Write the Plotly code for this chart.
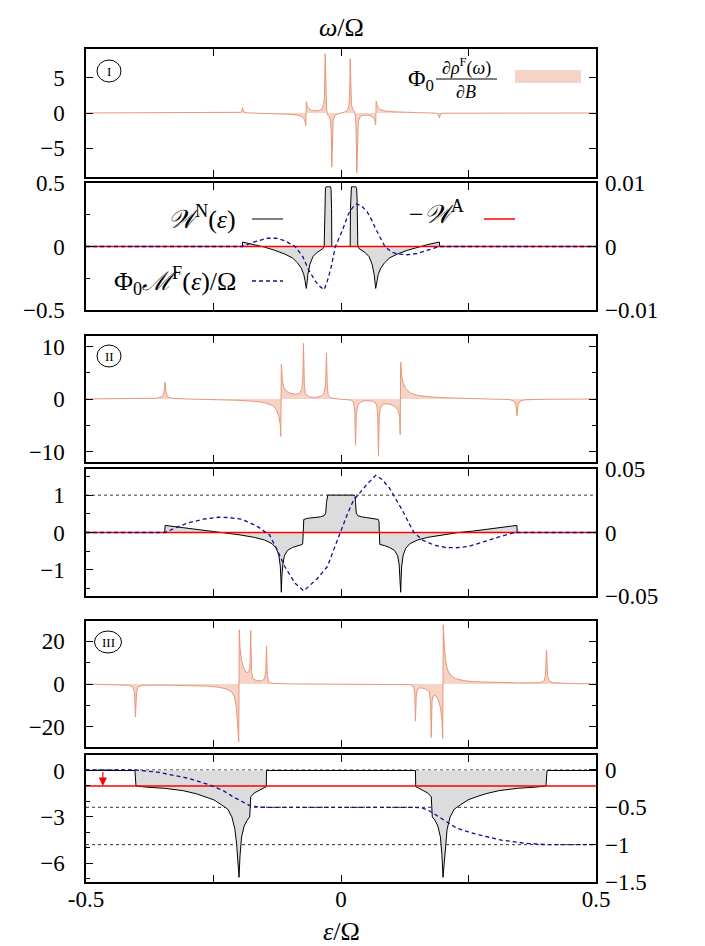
import plotly.graph_objects as go

# ---------------- data ----------------
# Panel I : Phi0 d rho^F / dB  (case I)
eps_rho1 = [-0.5, -0.25, -0.2, -0.196, -0.1945, -0.193, -0.1915, -0.19, -0.185, -0.15, -0.12, -0.1, -0.085,
            -0.077, -0.073, -0.0705, -0.069, -0.068, -0.066, -0.063, -0.058, -0.05, -0.042, -0.037, -0.034,
            -0.0325, -0.031, -0.0295, -0.028, -0.026, -0.023, -0.0205, -0.019, -0.018, -0.017, -0.0155,
            -0.012, -0.006,
            0.006, 0.012, 0.0155, 0.017, 0.018, 0.019, 0.0205, 0.023, 0.026, 0.028, 0.0295, 0.031, 0.0325,
            0.034, 0.037, 0.042, 0.05, 0.058, 0.063, 0.066, 0.068, 0.069, 0.0705, 0.073, 0.077, 0.085, 0.1,
            0.12, 0.15, 0.185, 0.19, 0.1915, 0.193, 0.1945, 0.196, 0.2, 0.25, 0.5]
rho1 = [0.0, 0.01, 0.03, 0.1, 0.3, 0.75, 0.3, 0.1, 0.02, -0.05, -0.1, -0.18, -0.3,
        -0.5, -0.8, -1.2, -1.8, 1.6, 0.95, 0.6, 0.4, 0.3, 0.35, 0.6, 1.2,
        2.5, 8.4, 2.0, 0.3, -0.3, -0.5, -1.2, -2.8, -7.7, -2.6, -1.0,
        -0.35, -0.1,
        0.1, 0.35, 1.0, 2.6, 7.7, 2.8, 1.2, 0.5, 0.3, -0.3, -2.0, -8.5, -2.5,
        -1.2, -0.6, -0.35, -0.3, -0.4, -0.6, -0.95, -1.7, 1.7, 1.2, 0.8, 0.5, 0.3, 0.18,
        0.1, 0.05, -0.02, -0.1, -0.3, -0.7, -0.3, -0.1, -0.03, -0.01, 0.0]

# Panel II : W^N (left axis) and M^F (right axis), case I
eps_w1 = [-0.5, -0.1935, -0.193, -0.17, -0.15, -0.13, -0.11, -0.095, -0.085, -0.078, -0.073, -0.0705,
          -0.069, -0.068, -0.067, -0.065, -0.061, -0.055, -0.048, -0.04, -0.035, -0.033, -0.032,
          -0.0315, -0.0305, -0.029, -0.0205, -0.0195, -0.0185, -0.018,
          0.018, 0.0185, 0.0195, 0.0205, 0.029, 0.0305, 0.0315, 0.032, 0.033, 0.035, 0.04, 0.048,
          0.055, 0.061, 0.065, 0.067, 0.068, 0.069, 0.0705, 0.073, 0.078, 0.085, 0.095, 0.11, 0.13,
          0.15, 0.17, 0.193, 0.1935, 0.5]
wN1 = [0.0, 0.0, 0.035, 0.015, -0.005, -0.03, -0.06, -0.09, -0.13, -0.17, -0.22, -0.27,
       -0.31, -0.33, -0.3, -0.22, -0.14, -0.08, -0.05, -0.03, -0.015, 0.0, 0.15,
       0.38, 0.46, 0.47, 0.47, 0.45, 0.3, 0.0,
       0.0, 0.3, 0.45, 0.47, 0.47, 0.46, 0.38, 0.15, 0.0, -0.015, -0.03, -0.05,
       -0.08, -0.14, -0.22, -0.3, -0.33, -0.31, -0.27, -0.22, -0.17, -0.13, -0.09, -0.06, -0.03,
       -0.005, 0.015, 0.035, 0.0, 0.0]
eps_m1 = [-0.5, -0.193, -0.175, -0.16, -0.145, -0.127, -0.11, -0.09, -0.075, -0.064, -0.05, -0.04,
          -0.033, -0.027, -0.02, -0.011, 0.002, 0.015, 0.025, 0.031, 0.04, 0.051, 0.06, 0.068,
          0.077, 0.086, 0.1, 0.112, 0.13, 0.15, 0.165, 0.18, 0.193, 0.5]
mF1 = [0.0, 0.0, 0.0006, 0.001, 0.0013, 0.0013, 0.0009, 0.0, -0.0016, -0.0036, -0.0055, -0.0064,
       -0.0068, -0.0055, -0.0035, 0.0, 0.0024, 0.0052, 0.0064, 0.0067, 0.0064, 0.0055, 0.0042, 0.0028,
       0.0013, 0.0, -0.0009, -0.0012, -0.0013, -0.0011, -0.0007, -0.0003, 0.0, 0.0]
wA1 = [0.0, 0.0]

# Panel III : Phi0 d rho^F / dB  (case II)
eps_rho2 = [-0.5, -0.4, -0.36, -0.35, -0.347, -0.345, -0.343, -0.34, -0.33, -0.3, -0.25, -0.2, -0.17,
            -0.15, -0.135, -0.127, -0.122, -0.119, -0.118, -0.117, -0.115, -0.112, -0.107, -0.1, -0.09,
            -0.082, -0.077, -0.075, -0.0735, -0.072, -0.07, -0.062, -0.05, -0.04, -0.033, -0.03,
            -0.0285, -0.027, -0.025, -0.02, -0.01,
            0.01, 0.02, 0.025, 0.027, 0.0285, 0.03, 0.033, 0.04, 0.05, 0.062, 0.07, 0.072, 0.0735,
            0.075, 0.077, 0.082, 0.09, 0.1, 0.107, 0.112, 0.115, 0.116, 0.117, 0.119, 0.122, 0.127,
            0.135, 0.15, 0.17, 0.2, 0.25, 0.3, 0.33, 0.34, 0.343, 0.345, 0.347, 0.35, 0.36, 0.4, 0.5]
rho2 = [0.0, 0.05, 0.15, 0.5, 1.2, 3.2, 1.2, 0.4, 0.1, 0.0, -0.1, -0.25, -0.45,
        -0.7, -1.2, -2.0, -3.2, -5.0, -7.1, 6.6, 3.5, 2.2, 1.5, 1.1, 0.9,
        1.0, 1.8, 3.5, 10.6, 3.2, 1.0, 0.4, 0.3, 0.5, 1.2, 3.0,
        8.7, 2.6, 0.7, 0.2, 0.05,
        -0.05, -0.2, -0.7, -2.6, -8.8, -3.0, -1.2, -0.5, -0.3, -0.4, -1.0, -3.2, -10.9,
        -3.5, -1.8, -1.0, -0.9, -1.1, -1.5, -2.2, -3.5, -6.8, 7.0, 4.5, 3.0, 2.0,
        1.2, 0.7, 0.45, 0.25, 0.1, 0.0, -0.1, -0.4, -1.2, -3.2, -1.2, -0.5, -0.15, -0.05, 0.0]

# Panel IV : W^N and M^F, case II
eps_w2 = [-0.5, -0.3455, -0.345, -0.32, -0.29, -0.26, -0.23, -0.2, -0.17, -0.15, -0.135, -0.127,
          -0.122, -0.119, -0.118, -0.117, -0.116, -0.114, -0.111, -0.105, -0.095, -0.085, -0.076,
          -0.075, -0.0745, -0.073, -0.065, -0.05, -0.04, -0.033, -0.03, -0.0285, -0.0275, -0.026,
          0.026, 0.0275, 0.0285, 0.03, 0.033, 0.04, 0.05, 0.065, 0.073, 0.0745, 0.075, 0.076, 0.085,
          0.095, 0.105, 0.111, 0.114, 0.116, 0.117, 0.118, 0.119, 0.122, 0.127, 0.135, 0.15, 0.17,
          0.2, 0.23, 0.26, 0.29, 0.32, 0.345, 0.3455, 0.5]
wN2 = [0.0, 0.0, 0.19, 0.15, 0.09, 0.04, 0.0, -0.06, -0.13, -0.2, -0.3, -0.42,
       -0.6, -0.9, -1.2, -1.6, -1.2, -0.85, -0.62, -0.48, -0.4, -0.35, -0.32,
       -0.28, 0.3, 0.35, 0.38, 0.4, 0.42, 0.45, 0.52, 0.8, 0.97, 1.0,
       1.0, 0.97, 0.8, 0.52, 0.45, 0.42, 0.4, 0.38, 0.35, 0.3, -0.28, -0.32, -0.35,
       -0.4, -0.48, -0.62, -0.85, -1.2, -1.6, -1.2, -0.9, -0.6, -0.42, -0.3, -0.2, -0.13,
       -0.06, 0.0, 0.04, 0.09, 0.15, 0.19, 0.0, 0.0]
eps_m2 = [-0.5, -0.345, -0.32, -0.3, -0.27, -0.24, -0.22, -0.196, -0.18, -0.161, -0.14, -0.126,
          -0.11, -0.09, -0.073, -0.06, -0.046, -0.027, -0.015, -0.002, 0.012, 0.024, 0.04, 0.051,
          0.068, 0.08, 0.095, 0.11, 0.121, 0.135, 0.143, 0.16, 0.183, 0.205, 0.227, 0.25, 0.28,
          0.31, 0.341, 0.5]
mF2 = [0.0, 0.0, 0.0045, 0.0075, 0.0105, 0.012, 0.0118, 0.0105, 0.008, 0.004, -0.002, -0.013,
       -0.027, -0.04, -0.046, -0.041, -0.036, -0.027, -0.014, 0.0, 0.014, 0.025, 0.033, 0.038,
       0.045, 0.042, 0.035, 0.025, 0.017, 0.006, 0.0, -0.006, -0.01, -0.0118, -0.012, -0.011, -0.007,
       -0.0035, 0.0, 0.0]
wA2 = [0.0, 0.0]

# Panel V : Phi0 d rho^F / dB  (case III)
eps_rho3 = [-0.5, -0.45, -0.415, -0.408, -0.405, -0.403, -0.401, -0.398, -0.39, -0.35, -0.3, -0.26,
            -0.24, -0.225, -0.215, -0.209, -0.205, -0.2025, -0.2005, -0.1995, -0.198, -0.195, -0.191,
            -0.186, -0.181, -0.1785, -0.177, -0.1755, -0.173, -0.165, -0.155, -0.15, -0.1475, -0.146,
            -0.1445, -0.142, -0.135, -0.1, 0.0,
            0.1, 0.135, 0.142, 0.1445, 0.146, 0.1475, 0.15, 0.155, 0.165, 0.173, 0.1755, 0.177, 0.1785,
            0.181, 0.186, 0.191, 0.195, 0.198, 0.1995, 0.2005, 0.2025, 0.205, 0.209, 0.215, 0.225,
            0.24, 0.26, 0.3, 0.35, 0.39, 0.398, 0.401, 0.403, 0.405, 0.408, 0.415, 0.45, 0.5]
rho3 = [0.0, -0.2, -0.6, -1.5, -4.0, -15.5, -4.0, -1.3, -0.6, -0.5, -0.7, -1.0,
        -1.5, -2.3, -3.6, -6.0, -11.0, -18.0, -27.0, 25.4, 17.0, 11.0, 7.5,
        5.5, 5.5, 8.0, 25.0, 6.0, 2.5, 1.5, 1.5, 2.5, 6.0, 17.8,
        4.0, 1.0, 0.3, 0.05, 0.0,
        -0.05, -0.3, -1.0, -4.0, -17.4, -6.0, -2.5, -1.8, -2.2, -3.5, -8.0, -25.0, -8.0,
        -5.5, -5.5, -7.5, -11.0, -17.0, -25.4, 27.7, 18.0, 11.0, 6.5, 4.0, 2.5,
        1.6, 1.1, 0.7, 0.5, 0.6, 1.3, 4.0, 15.9, 4.0, 1.5, 0.6, 0.2, 0.0]

# Panel VI : W^N and M^F, case III
eps_w3 = [-0.5, -0.404, -0.402, -0.38, -0.346, -0.31, -0.284, -0.265, -0.249, -0.235, -0.222, -0.214,
          -0.208, -0.2045, -0.202, -0.2, -0.198, -0.195, -0.19, -0.184, -0.179, -0.1775, -0.177,
          -0.17, -0.16, -0.15, -0.1465, -0.146,
          0.146, 0.1465, 0.15, 0.16, 0.17, 0.177, 0.1775, 0.179, 0.184, 0.19, 0.195, 0.198, 0.2,
          0.202, 0.2045, 0.208, 0.214, 0.222, 0.235, 0.249, 0.265, 0.284, 0.31, 0.346, 0.38, 0.402,
          0.404, 0.5]
wN3 = [0.0, 0.0, -1.0, -1.08, -1.15, -1.3, -1.5, -1.7, -1.9, -2.2, -2.5, -3.0,
       -3.8, -4.8, -6.0, -6.9, -5.5, -4.3, -3.6, -3.2, -3.0, -2.4, -1.7,
       -1.45, -1.25, -1.1, -1.05, 0.0,
       0.0, -1.05, -1.1, -1.25, -1.45, -1.7, -2.4, -3.0, -3.2, -3.6, -4.3, -5.5, -6.9,
       -6.0, -4.8, -3.8, -3.0, -2.5, -2.2, -1.9, -1.7, -1.5, -1.3, -1.15, -1.08, -1.0,
       0.0, 0.0]
eps_m3 = [-0.5, -0.403, -0.36, -0.3, -0.258, -0.23, -0.214, -0.2, -0.19, -0.178, -0.16, -0.146,
          0.146, 0.16, 0.174, 0.19, 0.2, 0.227, 0.25, 0.271, 0.315, 0.36, 0.403, 0.5]
mF3 = [0.0, 0.0, -0.03, -0.11, -0.2, -0.28, -0.35, -0.4, -0.44, -0.48, -0.497, -0.5,
       -0.5, -0.51, -0.55, -0.62, -0.67, -0.78, -0.83, -0.87, -0.94, -0.98, -1.0, -1.0]
wA3 = [-1.0, -1.0]
eps_edges = [-0.5, 0.5]

# axis ranges and ticks
y_ranges = {1: [-9.1, 9.1], 2: [-0.5, 0.5], 3: [-12, 12], 4: [-1.7, 1.7], 5: [-29.5, 29.5], 6: [-7.2, 1.0]}
y_ticks = {1: [-5, 0, 5], 2: [-0.5, 0, 0.5], 3: [-10, 0, 10], 4: [-1, 0, 1], 5: [-20, 0, 20], 6: [-6, -3, 0]}
y_minor = {1: None, 2: 0.25, 3: 5, 4: 0.5, 5: 10, 6: 1}
y2_ranges = {2: [-0.01, 0.01], 4: [-0.05, 0.05], 6: [-1.5, 0.2]}
y2_ticks = {2: [-0.01, 0, 0.01], 4: [-0.05, 0, 0.05], 6: [-1.5, -1, -0.5, 0]}
y2_text = {2: ["−0.01", "0", "0.01"], 4: ["−0.05", "0", "0.05"], 6: ["−1.5", "−1", "−0.5", "0"]}
x_tickvals = [-0.5, -0.25, 0, 0.25, 0.5]
x_ticktext = ["-0.5", " ", "0", " ", "0.5"]

# ---------------- layout geometry (pixels) ----------------
FW, FH = 705, 946
L, R, T, B = 78, 588, 41, 874
panel_px = {1: (41, 169), 2: (175, 302), 3: (328, 454), 4: (461, 588), 5: (613, 739), 6: (747, 874)}


def fx(p):
    return (p - L) / (R - L)


def fy(p):
    return (B - p) / (B - T)


FONT = "Liberation Serif"
TICKSIZE = 23
LEGSIZE = 26
ORANGE = "#E9967A"
ORANGE_FILL = "rgba(233,150,122,0.42)"
GRAYFILL = "#DCDCDC"
BLUE = "#10108C"
RED = "#FF0000"

fig = go.Figure()

rho_sets = {1: (eps_rho1, rho1), 3: (eps_rho2, rho2), 5: (eps_rho3, rho3)}
w_sets = {2: (eps_w1, wN1, eps_m1, mF1, wA1), 4: (eps_w2, wN2, eps_m2, mF2, wA2),
          6: (eps_w3, wN3, eps_m3, mF3, wA3)}
y2_id = {2: 7, 4: 8, 6: 9}


def ax(n):
    return "" if n == 1 else str(n)


for k, (xs, ys) in rho_sets.items():
    fig.add_trace(go.Scatter(x=xs, y=ys, mode="lines", line=dict(color=ORANGE, width=1),
                             fill="tozeroy", fillcolor=ORANGE_FILL,
                             xaxis="x" + ax(k), yaxis="y" + ax(k), showlegend=False))

for k, (xw, yw, xm, ym, wa) in w_sets.items():
    fig.add_trace(go.Scatter(x=xw, y=yw, mode="lines", line=dict(color="black", width=1),
                             fill="tozeroy", fillcolor=GRAYFILL,
                             xaxis="x" + ax(k), yaxis="y" + ax(k), showlegend=False))
    fig.add_trace(go.Scatter(x=eps_edges, y=wa, mode="lines", line=dict(color=RED, width=1.5),
                             xaxis="x" + ax(k), yaxis="y" + ax(k), showlegend=False))
    fig.add_trace(go.Scatter(x=xm, y=ym, mode="lines", line=dict(color=BLUE, width=1.3, dash="4px,3px"),
                             xaxis="x" + ax(k), yaxis="y" + str(y2_id[k]), showlegend=False))

layout = dict(width=FW, height=FH, margin=dict(l=L, r=FW - R, t=T, b=FH - B),
              paper_bgcolor="white", plot_bgcolor="white", showlegend=False,
              font=dict(family=FONT, size=20, color="black"))

for k in range(1, 7):
    top, bot = panel_px[k]
    xa = dict(domain=[0, 1], range=[-0.5, 0.5], anchor="y" + ax(k), showgrid=False, zeroline=False,
              showline=True, linecolor="black", linewidth=1.5, mirror="ticks", ticks="inside",
              ticklen=7, tickcolor="black", tickvals=x_tickvals, ticktext=x_ticktext,
              showticklabels=(k == 6), ticklabelstandoff=-4, tickfont=dict(size=TICKSIZE, family=FONT))
    if k != 1:
        xa["matches"] = "x"
    layout["xaxis" + ax(k)] = xa
    ya = dict(domain=[fy(bot), fy(top)], range=y_ranges[k], anchor="x" + ax(k), showgrid=False,
              zeroline=False, showline=True, linecolor="black", linewidth=1.5,
              mirror=("ticks" if k in (1, 3, 5) else True), ticks="inside", ticklen=7,
              tickcolor="black", tickvals=y_ticks[k], ticklabelstandoff=15,
              tickfont=dict(size=TICKSIZE, family=FONT))
    if y_minor[k]:
        ya["minor"] = dict(ticks="inside", ticklen=4, dtick=y_minor[k], tick0=0, tickcolor="black")
    layout["yaxis" + ax(k)] = ya

for k, n in y2_id.items():
    top, bot = panel_px[k]
    layout["yaxis" + str(n)] = dict(domain=[fy(bot), fy(top)], range=y2_ranges[k], anchor="x" + ax(k),
                                    overlaying="y" + ax(k), side="right", showgrid=False, zeroline=False,
                                    showline=False, ticks="inside", ticklen=7, tickcolor="black",
                                    tickvals=y2_ticks[k], ticktext=y2_text[k], ticklabelstandoff=8,
                                    tickfont=dict(size=TICKSIZE, family=FONT))

fig.update_layout(**layout)

shapes = []
# dotted reference lines
shapes.append(dict(type="line", xref="x4", yref="y4", x0=-0.5, x1=0.5, y0=1, y1=1,
                   line=dict(color="#333", width=1, dash="dot"), layer="below"))
for v in [0, -0.5, -1]:
    shapes.append(dict(type="line", xref="x6", yref="y9", x0=-0.5, x1=0.5, y0=v, y1=v,
                       line=dict(color="#333", width=1, dash="dot"), layer="below"))

annotations = []
# circled roman numerals
for (cx, cy, w, lab) in [(101, 63, 24, "I"), (101, 348, 24, "II"), (100, 634, 27, "III")]:
    shapes.append(dict(type="circle", xref="paper", yref="paper",
                       x0=fx(cx - w / 2), x1=fx(cx + w / 2), y0=fy(cy + 11), y1=fy(cy - 11),
                       line=dict(color="black", width=1)))
    annotations.append(dict(xref="paper", yref="paper", x=fx(cx), y=fy(cy), text=lab, showarrow=False,
                            font=dict(size=13, family=FONT), xanchor="center", yanchor="middle"))

# panel I legend
shapes.append(dict(type="rect", xref="paper", yref="paper", x0=fx(507), x1=fx(573), y0=fy(75), y1=fy(62),
                   fillcolor=ORANGE_FILL, line=dict(width=0)))
annotations.append(dict(xref="paper", yref="paper", x=fx(428), y=fy(72), text="Φ<sub>0</sub>",
                        showarrow=False, xanchor="right", yanchor="middle", font=dict(size=24, family=FONT)))
annotations.append(dict(xref="paper", yref="paper", x=fx(458), y=fy(59), text="∂<i>ρ</i><sup>F</sup>(<i>ω</i>)",
                        showarrow=False, xanchor="center", yanchor="middle", font=dict(size=18, family=FONT)))
annotations.append(dict(xref="paper", yref="paper", x=fx(458), y=fy(84), text="∂<i>B</i>",
                        showarrow=False, xanchor="center", yanchor="middle", font=dict(size=18, family=FONT)))
shapes.append(dict(type="line", xref="paper", yref="paper", x0=fx(428), x1=fx(489), y0=fy(71), y1=fy(71),
                   line=dict(color="black", width=1)))

# panel II legend
annotations.append(dict(xref="paper", yref="paper", x=fx(230), y=fy(210),
                        text="<i>𝒲</i><sup>N</sup>(<i>ε</i>)", showarrow=False, xanchor="right",
                        yanchor="middle", font=dict(size=LEGSIZE, family=FONT)))
shapes.append(dict(type="line", xref="paper", yref="paper", x0=fx(244), x1=fx(275), y0=fy(211), y1=fy(211),
                   line=dict(color="black", width=1)))
annotations.append(dict(xref="paper", yref="paper", x=fx(458), y=fy(205),
                        text="−<i>𝒲</i><sup>A</sup>", showarrow=False, xanchor="right",
                        yanchor="middle", font=dict(size=LEGSIZE, family=FONT)))
shapes.append(dict(type="line", xref="paper", yref="paper", x0=fx(476), x1=fx(507), y0=fy(211), y1=fy(211),
                   line=dict(color=RED, width=1.5)))
annotations.append(dict(xref="paper", yref="paper", x=fx(230), y=fy(273),
                        text="Φ<sub>0</sub><i>ℳ</i><sup>F</sup>(<i>ε</i>)/Ω", showarrow=False,
                        xanchor="right", yanchor="middle", font=dict(size=LEGSIZE, family=FONT)))
shapes.append(dict(type="line", xref="paper", yref="paper", x0=fx(244), x1=fx(275), y0=fy(273), y1=fy(273),
                   line=dict(color=BLUE, width=1.3, dash="4px,3px")))

# red arrow in panel VI
annotations.append(dict(xref="x6", yref="y6", axref="x6", ayref="y6", x=-0.467, y=-1.0, ax=-0.467, ay=0.0,
                        text="", showarrow=True, arrowhead=2, arrowsize=1.4, arrowwidth=1.2, arrowcolor=RED,
                        standoff=0))

# axis titles
annotations.append(dict(xref="paper", yref="paper", x=fx(333), y=fy(3), text="<i>ω</i>/Ω", showarrow=False,
                        xanchor="center", yanchor="top", font=dict(size=26, family=FONT)))
annotations.append(dict(xref="paper", yref="paper", x=fx(333), y=fy(940), text="<i>ε</i>/Ω", showarrow=False,
                        xanchor="center", yanchor="bottom", font=dict(size=26, family=FONT)))

fig.update_layout(shapes=shapes, annotations=annotations)
fig.write_html("out.html")
